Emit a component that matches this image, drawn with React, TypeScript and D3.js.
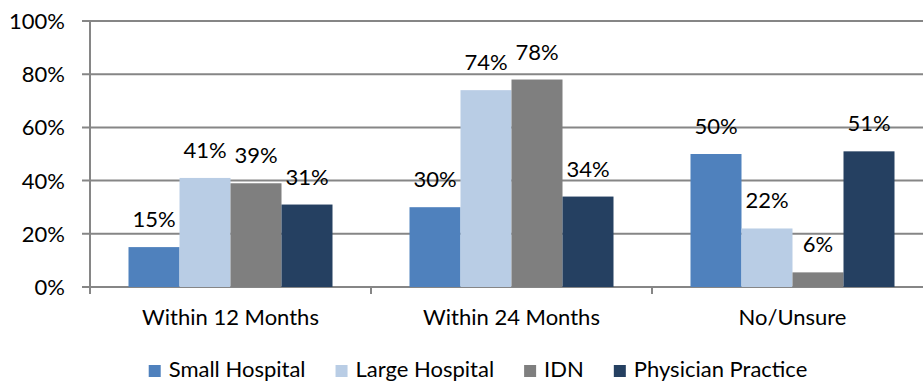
import React, { useEffect, useRef } from "react";
import * as d3 from "d3";

const categories = ["Within 12 Months", "Within 24 Months", "No/Unsure"];
const seriesNames = ["Small Hospital", "Large Hospital", "IDN", "Physician Practice"];
const seriesColors = ["#4F81BD", "#B9CDE5", "#7F7F7F", "#254061"];
const smallHospital = [15, 30, 50];
const largeHospital = [41, 74, 22];
const idn = [39, 78, 5.5];
const physicianPractice = [31, 34, 51];
const yTicks = [0, 20, 40, 60, 80, 100];

const W = 923;
const H = 383;
const FONT = "Lato, 'Open Sans', sans-serif";
const FS = 22;

export default function App() {
  const ref = useRef<SVGSVGElement>(null);

  useEffect(() => {
    const svg = d3.select(ref.current);
    svg.selectAll("*").remove();
    const allSeries = [smallHospital, largeHospital, idn, physicianPractice];

    const left = 90;
    const right = 933;
    const top = 21;
    const bottom = 287;
    const grid = "#868686";

    const x0 = d3.scaleBand<string>().domain(categories).range([left, right]).paddingInner(0).paddingOuter(0);
    const groupW = x0.bandwidth() * (204 / 281);
    const x1 = d3
      .scaleBand<string>()
      .domain(seriesNames)
      .range([(x0.bandwidth() - groupW) / 2, (x0.bandwidth() + groupW) / 2])
      .padding(0);
    const y = d3.scaleLinear().domain([0, 100]).range([bottom, top]);

    // gridlines
    svg
      .append("g")
      .selectAll("line")
      .data(yTicks)
      .join("line")
      .attr("x1", left - 8)
      .attr("x2", right)
      .attr("y1", (d) => y(d))
      .attr("y2", (d) => y(d))
      .attr("stroke", grid)
      .attr("stroke-width", 2);

    // y axis labels
    svg
      .append("g")
      .selectAll("text")
      .data(yTicks)
      .join("text")
      .attr("x", 65)
      .attr("y", (d) => y(d) + 8)
      .attr("text-anchor", "end")
      .attr("font-family", FONT)
      .attr("font-size", FS)
      .attr("fill", "#000")
      .text((d) => d + "%");

    // bars
    const groups = svg
      .append("g")
      .selectAll("g")
      .data(categories)
      .join("g")
      .attr("transform", (c) => `translate(${x0(c)},0)`);

    groups
      .selectAll("rect")
      .data((c, ci) => seriesNames.map((s, si) => ({ s, si, v: allSeries[si][ci] })))
      .join("rect")
      .attr("x", (d) => x1(d.s)!)
      .attr("width", x1.bandwidth())
      .attr("y", (d) => y(d.v))
      .attr("height", (d) => bottom - y(d.v))
      .attr("fill", (d) => seriesColors[d.si]);

    groups
      .selectAll("text")
      .data((c, ci) => seriesNames.map((s, si) => ({ s, si, v: allSeries[si][ci] })))
      .join("text")
      .attr("x", (d) => x1(d.s)! + x1.bandwidth() / 2)
      .attr("y", (d) => y(d.v) - 20)
      .attr("text-anchor", "middle")
      .attr("font-family", FONT)
      .attr("font-size", FS)
      .attr("fill", "#000")
      .text((d) => Math.round(d.v) + "%");

    // y axis line
    svg
      .append("line")
      .attr("x1", left)
      .attr("x2", left)
      .attr("y1", top)
      .attr("y2", bottom + 7)
      .attr("stroke", grid)
      .attr("stroke-width", 2);

    // x axis ticks
    const bounds = categories.map((c) => x0(c)!);
    svg
      .append("g")
      .selectAll("line")
      .data(bounds)
      .join("line")
      .attr("x1", (d) => d)
      .attr("x2", (d) => d)
      .attr("y1", bottom)
      .attr("y2", bottom + 7)
      .attr("stroke", grid)
      .attr("stroke-width", 2);

    // x labels
    svg
      .append("g")
      .selectAll("text")
      .data(categories)
      .join("text")
      .attr("x", (c) => x0(c)! + x0.bandwidth() / 2)
      .attr("y", 325)
      .attr("text-anchor", "middle")
      .attr("font-family", FONT)
      .attr("font-size", FS)
      .attr("fill", "#000")
      .text((c) => c);

    // legend
    const leg = svg.append("g");
    const sq = 12;
    const gapSq = 8;
    const gapItem = 30;
    let cx = 0;
    seriesNames.forEach((s, i) => {
      const g = leg.append("g");
      g.append("rect").attr("x", 0).attr("y", -12).attr("width", sq).attr("height", sq).attr("fill", seriesColors[i]);
      const t = g
        .append("text")
        .attr("x", sq + gapSq)
        .attr("y", 0)
        .attr("font-family", FONT)
        .attr("font-size", FS)
        .attr("fill", "#000")
        .text(s);
      const w = (t.node() as SVGTextElement).getComputedTextLength();
      g.attr("transform", `translate(${cx},0)`);
      cx += sq + gapSq + w + gapItem;
    });
    const total = cx - gapItem;
    leg.attr("transform", `translate(${478 - total / 2},377)`);
  }, []);

  return (
    <svg
      ref={ref}
      width={W}
      height={H}
      style={{ position: "absolute", left: 0, top: 0, background: "#fff" }}
    />
  );
}
